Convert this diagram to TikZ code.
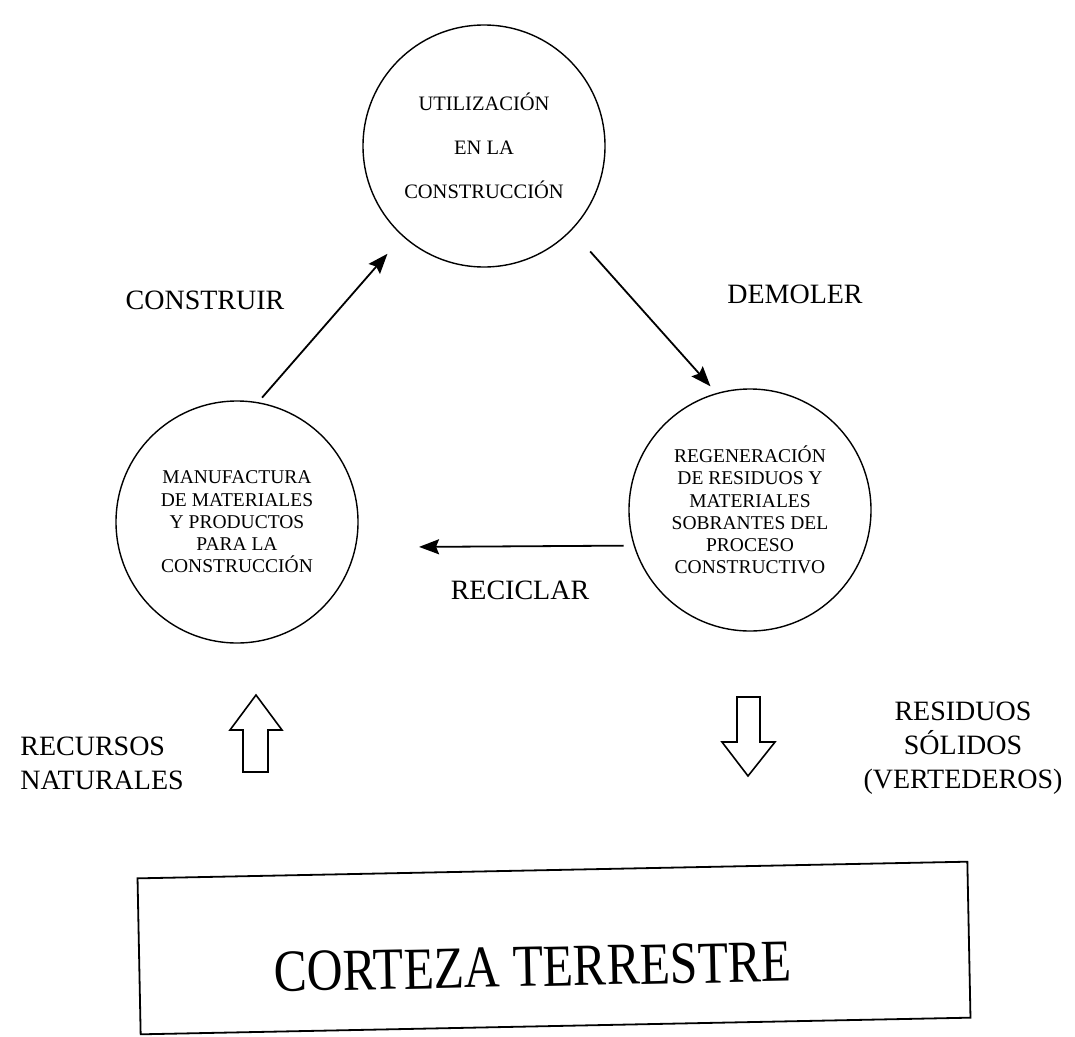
\documentclass[tikz,border=0pt]{standalone}
\usepackage{fontspec}
\setmainfont{Liberation Serif}
\usetikzlibrary{arrows.meta}

\begin{document}
\begin{tikzpicture}[x=1pt, y=-1pt,
	ciclo/.style={circle, draw, line width=1.4pt, minimum size=242pt, inner sep=0pt, align=center},
	flecha/.style={-{Stealth[length=20pt,width=15pt,inset=3pt]}, line width=1.8pt},
	etiqueta/.style={font=\fontsize{28}{34}\selectfont, align=center},
	hueca/.style={draw, line width=1.6pt, line join=miter}]
	\useasboundingbox (0,0) rectangle (1075,1036);

	% los tres procesos del ciclo
	\node[ciclo, font=\fontsize{20.5}{44}\selectfont] (uti) at (484,146)
		{UTILIZACIÓN\\EN LA\\CONSTRUCCIÓN};
	\node[ciclo, font=\fontsize{19.5}{22.3}\selectfont] (man) at (237,522)
		{MANUFACTURA\\DE MATERIALES\\Y PRODUCTOS\\PARA LA\\CONSTRUCCIÓN};
	\node[ciclo, font=\fontsize{19.5}{22.3}\selectfont] (reg) at (750,510)
		{REGENERACIÓN\\DE RESIDUOS Y\\MATERIALES\\SOBRANTES DEL\\PROCESO\\CONSTRUCTIVO};

	\path[flecha]
	(man.80)  edge[shorten <=6pt, shorten >=23pt] (uti.228)
	(uti.316) edge[shorten <=28pt, shorten >=9pt] (reg.106)
	(reg.197) edge[shorten <=10pt, shorten >=63pt] (man.348)
	;

	\node[etiqueta] (construir) at (205,300) {CONSTRUIR};
	\node[etiqueta] (demoler) at (795,294) {DEMOLER};
	\node[etiqueta] (reciclar) at (520,590) {RECICLAR};

	% corteza
	\node[draw, line width=1.8pt, rotate=1.15, minimum width=830pt, minimum height=156pt] (corteza) at (554,948) {};
	\node[rotate=1.15, font=\fontsize{49.7}{55}\selectfont] (cortezatxt) at (533,967)
		{\scalebox{1}[1.2]{CORTEZA TERRESTRE}};

	% flechas huecas
	\draw[hueca] (243,772) -- (243,730) -- (230,730) -- (256,695) -- (282,730) -- (268,730) -- (268,772) -- cycle;
	\draw[hueca] (737,697) -- (737,742) -- (722,742) -- (748,776) -- (775,742) -- (760,742) -- (760,697) -- cycle;

	\node[etiqueta, align=left] (recursos) at (102,763) {RECURSOS\\NATURALES};
	\node[etiqueta] (residuos) at (963,748) {RESIDUOS\\SÓLIDOS\\(VERTEDEROS)};
\end{tikzpicture}
\end{document}
